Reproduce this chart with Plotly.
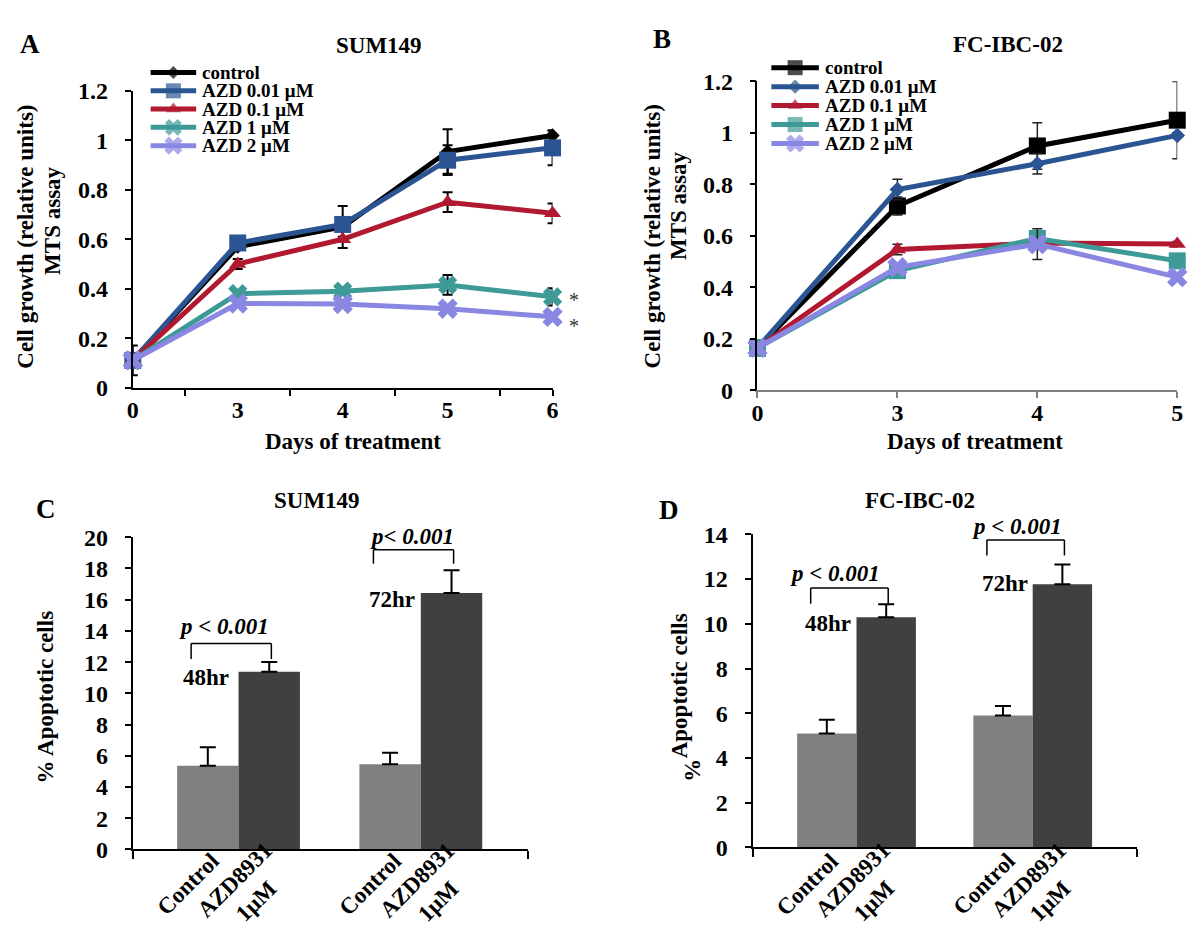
import plotly.graph_objects as go

W, H = 1200, 937
FONT = "Liberation Serif"

# ---------------- Panel A: SUM149 growth ----------------
a_days = ["0", "3", "4", "5", "6"]
a_control = [0.11, 0.57, 0.65, 0.955, 1.02]
a_control_err = [0.06, 0.01, 0.085, 0.09, 0.02]
a_azd001 = [0.11, 0.585, 0.66, 0.92, 0.97]
a_azd001_err = [0.0, 0.01, 0.01, 0.06, 0.07]
a_azd01 = [0.11, 0.50, 0.60, 0.75, 0.705]
a_azd01_err = [0.0, 0.02, 0.01, 0.04, 0.04]
a_azd1 = [0.11, 0.38, 0.39, 0.415, 0.367]
a_azd1_err = [0.0, 0.01, 0.01, 0.04, 0.035]
a_azd2 = [0.11, 0.34, 0.338, 0.319, 0.286]
a_azd2_err = [0.0, 0.01, 0.01, 0.01, 0.01]

# ---------------- Panel B: FC-IBC-02 growth ----------------
b_days = ["0", "3", "4", "5"]
b_control = [0.165, 0.716, 0.949, 1.049]
b_control_err = [0.0, 0.035, 0.09, 0.15]
b_azd001 = [0.165, 0.78, 0.88, 0.99]
b_azd001_err = [0.0, 0.04, 0.04, 0.01]
b_azd01 = [0.165, 0.547, 0.572, 0.568]
b_azd01_err = [0.0, 0.02, 0.01, 0.01]
b_azd1 = [0.165, 0.465, 0.59, 0.503]
b_azd1_err = [0.0, 0.01, 0.01, 0.01]
b_azd2 = [0.165, 0.478, 0.568, 0.44]
b_azd2_err = [0.0, 0.01, 0.06, 0.01]

# ---------------- Panel C / D: apoptosis ----------------
time_points = ["48hr", "72hr"]
c_control = [5.36, 5.46]
c_control_err = [1.19, 0.73]
c_azd = [11.38, 16.43]
c_azd_err = [0.62, 1.45]
d_control = [5.09, 5.90]
d_control_err = [0.62, 0.42]
d_azd = [10.29, 11.77]
d_azd_err = [0.58, 0.88]
p_text_c = ["p < 0.001", "p< 0.001"]
p_text_d = ["p < 0.001", "p < 0.001"]

series_names = ["control", "AZD 0.01 μM", "AZD 0.1 μM", "AZD 1 μM", "AZD 2 μM"]
colors = ["#000000", "#2B5592", "#B0192F", "#3E9A97", "#8A87E2"]


def px_x(p):
    return p / W


def px_y(p):
    return 1 - p / H


fig = go.Figure()

# ---- Panel A traces ----
a_vals = [a_control, a_azd001, a_azd01, a_azd1, a_azd2]
a_errs = [a_control_err, a_azd001_err, a_azd01_err, a_azd1_err, a_azd2_err]
a_symbols = ["diamond", "square", "triangle-up", "x", "x"]
a_sizes = [11, 17, 15, 17, 18]
xa = list(range(len(a_days)))
for i in range(5):
    fig.add_trace(go.Scatter(
        x=xa, y=a_vals[i], name=series_names[i], mode="lines+markers",
        line=dict(color=colors[i], width=5),
        marker=dict(symbol=a_symbols[i], size=a_sizes[i], color=colors[i],
                    line=dict(width=0)),
        error_y=dict(type="data", array=a_errs[i], color="black",
                     thickness=2, width=5),
        xaxis="x", yaxis="y", showlegend=False, cliponaxis=False,
    ))

# ---- Panel B traces ----
b_vals = [b_control, b_azd001, b_azd01, b_azd1, b_azd2]
b_errs = [b_control_err, b_azd001_err, b_azd01_err, b_azd1_err, b_azd2_err]
b_symbols = ["square", "diamond", "triangle-up", "square", "x"]
b_sizes = [17, 12, 15, 17, 18]
xb = list(range(len(b_days)))
for i in range(5):
    fig.add_trace(go.Scatter(
        x=xb, y=b_vals[i], name=series_names[i], mode="lines+markers",
        line=dict(color=colors[i], width=5),
        marker=dict(symbol=b_symbols[i], size=b_sizes[i], color=colors[i],
                    line=dict(width=0)),
        error_y=dict(type="data", array=b_errs[i], color="#222222",
                     thickness=1.5, width=5),
        xaxis="x2", yaxis="y2", showlegend=False, cliponaxis=False,
    ))

# ---- Panel C / D bars ----
BW = 0.337
grp = list(range(len(time_points)))
for xa_, ya_, ctrl, ctrl_e, azd, azd_e in [
        ("x3", "y3", c_control, c_control_err, c_azd, c_azd_err),
        ("x4", "y4", d_control, d_control_err, d_azd, d_azd_err)]:
    fig.add_trace(go.Bar(
        x=grp, y=ctrl, width=BW, offset=-BW, marker=dict(color="#808080", line=dict(width=0)),
        error_y=dict(type="data", array=ctrl_e, arrayminus=[0] * len(ctrl_e),
                     symmetric=False, color="black", thickness=2, width=8),
        xaxis=xa_, yaxis=ya_, showlegend=False,
    ))
    fig.add_trace(go.Bar(
        x=grp, y=azd, width=BW, offset=0, marker=dict(color="#404040", line=dict(width=0)),
        error_y=dict(type="data", array=azd_e, arrayminus=[0] * len(azd_e),
                     symmetric=False, color="black", thickness=2, width=8),
        xaxis=xa_, yaxis=ya_, showlegend=False,
    ))

# ---- Legends (drawn on a hidden full-page overlay axis in pixel units) ----
legend_specs = [
    # (line x0, line x1, text x, first row y, row step, symbols, sizes)
    (138, 184, 188, 53, 18.8, a_symbols, [10, 15, 13, 15, 16]),
    (765, 813, 817, 48, 19.5, b_symbols, [15, 11, 13, 15, 16]),
]
legend_ann = []
for (lx0, lx1, tx, y0, dy, syms, szs) in legend_specs:
    for i, nm in enumerate(series_names):
        yy = y0 + i * dy
        fig.add_trace(go.Scatter(
            x=[lx0, (lx0 + lx1) / 2, lx1], y=[yy, yy, yy], mode="lines+markers",
            line=dict(color=colors[i], width=5),
            marker=dict(symbol=syms[i], size=[0, szs[i], 0], color=colors[i], line=dict(width=0)),
            xaxis="x5", yaxis="y5", showlegend=False, hoverinfo="skip", cliponaxis=False,
        ))
        legend_ann.append(dict(text="<b>" + nm + "</b>", x=tx, y=yy, xref="x5", yref="y5",
                               showarrow=False, xanchor="left", yanchor="middle",
                               font=dict(family=FONT, size=19, color="black")))

tickfont = dict(family=FONT, size=24, color="black", weight="bold")

layout = dict(
    width=W, height=H, margin=dict(l=0, r=0, t=0, b=0),
    paper_bgcolor="white", plot_bgcolor="rgba(0,0,0,0)",
    barmode="overlay", showlegend=False,
    font=dict(family=FONT, color="black"),
)

yt_growth = [0, 0.2, 0.4, 0.6, 0.8, 1.0, 1.2]
yt_growth_txt = ["0", "0.2", "0.4", "0.6", "0.8", "1", "1.2"]

# axis A
A_XDOM = [px_x(120), px_x(544)]
A_YDOM = [px_y(377), px_y(72)]
layout["xaxis"] = dict(
    domain=A_XDOM, range=[0, 4], anchor="y",
    showline=True, linecolor="black", linewidth=2, showgrid=False, zeroline=False,
    tickvals=xa, ticktext=a_days, ticks="outside", ticklen=6, tickcolor="rgba(0,0,0,0)",
    tickfont=tickfont, ticklabelstandoff=-6,
    minor=dict(tickvals=[0.5, 1.5, 2.5, 3.5, 4], ticks="outside", ticklen=6,
               tickwidth=2, tickcolor="black", showgrid=False),
)
layout["yaxis"] = dict(
    domain=A_YDOM, range=[0, 1.2], anchor="x",
    showline=True, linecolor="black", linewidth=2, showgrid=False, zeroline=False,
    tickvals=yt_growth, ticktext=yt_growth_txt,
    ticks="outside", ticklen=6, tickwidth=2, tickcolor="black",
    tickfont=tickfont, ticklabelstandoff=12,
)
# axis B
B_XDOM = [px_x(751), px_x(1175)]
B_YDOM = [px_y(380), px_y(62)]
layout["xaxis2"] = dict(
    domain=B_XDOM, range=[0, 3], anchor="y2",
    showline=True, linecolor="#808080", linewidth=2, showgrid=False, zeroline=False,
    tickvals=xb, ticktext=b_days, ticks="outside", ticklen=6, tickwidth=1.5,
    tickcolor="#808080", tickfont=tickfont, ticklabelstandoff=-6,
)
layout["yaxis2"] = dict(
    domain=B_YDOM, range=[0, 1.2], anchor="x2",
    showline=True, linecolor="black", linewidth=1.5, showgrid=False, zeroline=False,
    tickvals=yt_growth, ticktext=yt_growth_txt,
    ticks="outside", ticklen=6, tickwidth=1.5, tickcolor="black",
    tickfont=tickfont, ticklabelstandoff=12,
)
# axis C
C_DOM = [px_y(852), px_y(531)]
C_RNG = [0, 20]
layout["xaxis3"] = dict(
    domain=[px_x(120), px_x(519)], range=[-0.58, 1.587], anchor="y3",
    showline=True, linecolor="black", linewidth=2, showgrid=False, zeroline=False,
    showticklabels=False, ticks="",
    minor=dict(tickvals=[-0.58, 1.587], ticks="outside", ticklen=8, tickwidth=2,
               tickcolor="black", showgrid=False),
)
layout["yaxis3"] = dict(
    domain=C_DOM, range=C_RNG, anchor="x3",
    showline=True, linecolor="black", linewidth=2, showgrid=False, zeroline=False,
    tickvals=list(range(0, 21, 2)), ticks="outside", ticklen=6, tickwidth=2,
    tickcolor="black", tickfont=tickfont, ticklabelstandoff=12,
)
# axis D
D_DOM = [px_y(850), px_y(528)]
D_RNG = [0, 14]
layout["xaxis4"] = dict(
    domain=[px_x(746), px_x(1134)], range=[-0.59, 1.59], anchor="y4",
    showline=True, linecolor="black", linewidth=2, showgrid=False, zeroline=False,
    showticklabels=False, ticks="",
    minor=dict(tickvals=[-0.59, 1.59], ticks="outside", ticklen=8, tickwidth=2,
               tickcolor="black", showgrid=False),
)
layout["yaxis4"] = dict(
    domain=D_DOM, range=D_RNG, anchor="x4",
    showline=True, linecolor="black", linewidth=2, showgrid=False, zeroline=False,
    tickvals=list(range(0, 15, 2)), ticks="outside", ticklen=6, tickwidth=2,
    tickcolor="black", tickfont=tickfont, ticklabelstandoff=12,
)
# overlay axis for legend glyphs (pixel units)
layout["xaxis5"] = dict(domain=[0, 1], range=[0, W], anchor="y5", visible=False, fixedrange=True)
layout["yaxis5"] = dict(domain=[0, 1], range=[H, 0], anchor="x5", visible=False, fixedrange=True)

fig.update_layout(**layout)


def y_to_paper(v, dom, rng):
    return dom[0] + (v - rng[0]) / (rng[1] - rng[0]) * (dom[1] - dom[0])


ann = list(legend_ann)


def add_text(text, x, y, size=23, angle=0, xref="paper", yref="paper", italic=False,
             bold_=True, color="black", xshift=0, yshift=0, pad=1):
    t = "<b>" + text + "</b>" if bold_ else text
    if italic:
        t = "<i>" + t + "</i>"
    ann.append(dict(text=t, x=x, y=y, xref=xref, yref=yref, showarrow=False,
                    textangle=angle, font=dict(family=FONT, size=size, color=color),
                    xanchor="center", yanchor="middle", xshift=xshift, yshift=yshift,
                    borderpad=pad))


# panel letters and titles
add_text("A", px_x(16), px_y(24), size=27)
add_text("B", px_x(655), px_y(18), size=27)
add_text("C", px_x(32), px_y(502), size=27)
add_text("D", px_x(662), px_y(503), size=27)
add_text("SUM149", px_x(369), px_y(25))
add_text("FC-IBC-02", px_x(1004), px_y(24))
add_text("SUM149", px_x(306), px_y(493))
add_text("FC-IBC-02", px_x(915), px_y(493))

# axis titles
add_text("Cell growth (relative units)", px_x(12), px_y(222), angle=-90)
add_text("MTS assay", px_x(39), px_y(206), angle=-90)
add_text("Cell growth (relative units)", px_x(645), px_y(222), angle=-90)
add_text("MTS assay", px_x(671), px_y(190), angle=-90)
add_text("Days of treatment", px_x(342), px_y(432))
add_text("Days of treatment", px_x(971), px_y(432))
add_text("% Apoptotic cells", px_x(32), px_y(695), angle=-90)
add_text("Apoptotic cells", px_x(672), px_y(684), angle=-90)
add_text("%", px_x(685), px_y(771), angle=-90)

# significance asterisks next to the last points (paper coords derived from axis scale)
for ser, ys in [(a_azd1, -3), (a_azd2, -9)]:
    add_text("*", px_x(566), y_to_paper(ser[-1], A_YDOM, [0, 1.2]), size=20, bold_=False,
             color="#333333", yshift=ys, pad=0)
for ser, ys in [(b_azd01, 3), (b_azd1, 2), (b_azd2, -3)]:
    add_text("*", px_x(1194), y_to_paper(ser[-1], B_YDOM, [0, 1.2]), size=20, bold_=False,
             color="#333333", yshift=ys, pad=0)

# bar x labels (rotated)
for xr in ["x3", "x4"]:
    for g in grp:
        add_text("Control", g - BW / 2 - 0.11, px_y(888), angle=-45, xref=xr)
        add_text("AZD8931<br>1μM", g + BW / 2 - 0.13, px_y(894), angle=-45, xref=xr)

# p-value brackets and labels
shapes = []
brackets_c = [(13.2, 12.2), (19.2, 18.3)]
brackets_d = [(11.6, 10.9), (13.75, 13.05)]
for xr, yr, dom, rng, br, ptxt, py, hy, hx, pxo in [
        ("x3", "y3", C_DOM, C_RNG, brackets_c, p_text_c, [14.3, 20.06], [11.0, 16.0],
         [-0.18, -0.16], [-0.08, -0.05]),
        ("x4", "y4", D_DOM, D_RNG, brackets_d, p_text_d, [12.25, 14.36], [10.03, 11.8],
         [-0.16, -0.16], [-0.12, -0.09])]:
    for g in grp:
        top, bot = br[g]
        xl, xr_ = g - 0.26, g + 0.18
        for (x0, y0, x1, y1) in [(xl, bot, xl, top), (xl, top, xr_, top), (xr_, top, xr_, bot)]:
            shapes.append(dict(type="line", xref=xr, yref=yr, x0=x0, y0=y0, x1=x1, y1=y1,
                               line=dict(color="black", width=1.5)))
        add_text(ptxt[g], g + pxo[g], y_to_paper(py[g], dom, rng), xref=xr, italic=True)
        add_text(time_points[g], g + hx[g], y_to_paper(hy[g], dom, rng), xref=xr)

fig.update_layout(annotations=ann, shapes=shapes)
fig.write_html("out.html")
